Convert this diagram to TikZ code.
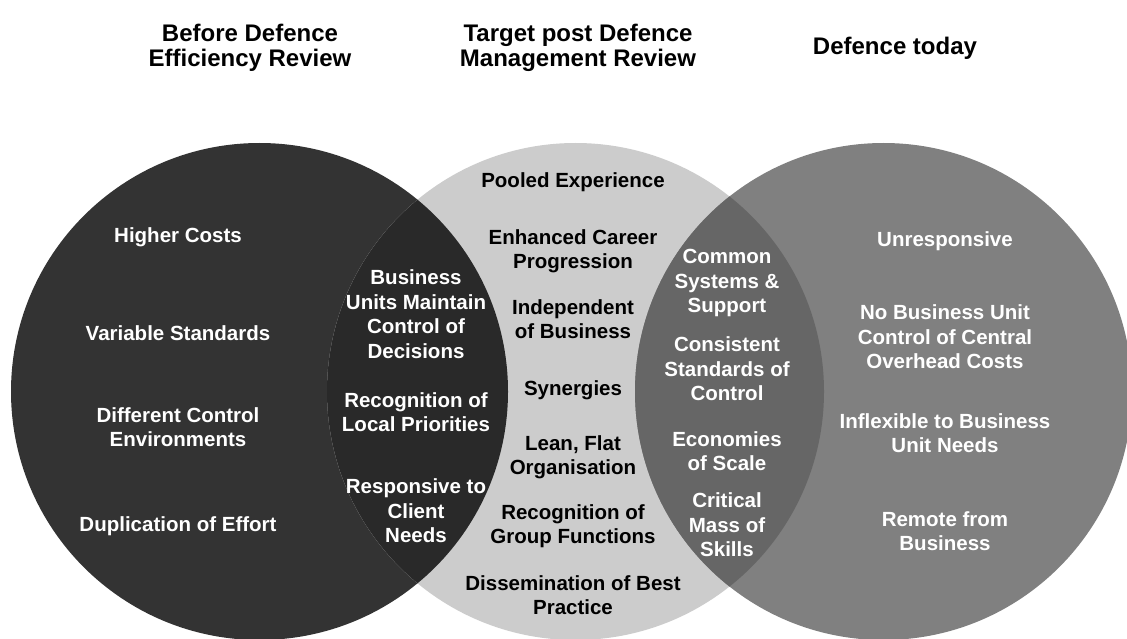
\documentclass[tikz,border=0pt]{standalone}
\usepackage{fontspec}
\setmainfont{Liberation Sans}
\definecolor{leftgray}{HTML}{333333}
\definecolor{midgray}{HTML}{CCCCCC}
\definecolor{rightgray}{HTML}{808080}
\definecolor{lcgray}{HTML}{292929}
\definecolor{crgray}{HTML}{666666}

\begin{document}
\begin{tikzpicture}[x=1pt, y=-1pt,
    txt/.style={align=center, inner sep=0pt, font=\fontsize{20.5}{24.5}\selectfont\bfseries},
    head/.style={align=center, inner sep=0pt, font=\fontsize{24}{25.5}\selectfont\bfseries}]
    \clip (0,0) rectangle (1127,639);
    \fill[white] (0,0) rectangle (1127,639);
    % circles
    \fill[leftgray] (259.5,391.5) circle [radius=248.5pt];
    \fill[midgray] (575.5,391.5) circle [radius=248.5pt];
    \fill[rightgray] (883.5,391.5) circle [radius=248.5pt];
    \begin{scope}
        \clip (259.5,391.5) circle [radius=248.5pt];
        \fill[lcgray] (575.5,391.5) circle [radius=248.5pt];
    \end{scope}
    \begin{scope}
        \clip (575.5,391.5) circle [radius=248.5pt];
        \fill[crgray] (883.5,391.5) circle [radius=248.5pt];
    \end{scope}
    % headings
    \node[head] (hleft) at (250,48) {Before Defence\\Efficiency Review};
    \node[head] (hmid) at (578,48) {Target post Defence\\Management Review};
    \node[head] (hright) at (895,48) {Defence today};
    % left circle
    \node[txt, white] (costs) at (178,237) {Higher Costs};
    \node[txt, white] (standards) at (178,333) {Variable Standards};
    \node[txt, white] (environ) at (178,427) {Different Control\\Environments};
    \node[txt, white] (dupl) at (178,526) {Duplication of Effort};
    % left and middle
    \node[txt, white] (units) at (416,314) {Business\\Units Maintain\\Control of\\Decisions};
    \node[txt, white] (local) at (416,412) {Recognition of\\Local Priorities};
    \node[txt, white] (client) at (416,511) {Responsive to\\Client\\Needs};
    % middle circle
    \node[txt] (pooled) at (573,182) {Pooled Experience};
    \node[txt] (career) at (573,251) {Enhanced Career\\Progression};
    \node[txt] (indep) at (573,319) {Independent\\of Business};
    \node[txt] (syn) at (573,390) {Synergies};
    \node[txt] (lean) at (573,457) {Lean, Flat\\Organisation};
    \node[txt] (group) at (573,526) {Recognition of\\Group Functions};
    \node[txt] (best) at (573,595) {Dissemination of Best\\Practice};
    % middle and right
    \node[txt, white] (common) at (727,283) {Common\\Systems \&\\Support};
    \node[txt, white] (consist) at (727,369) {Consistent\\Standards of\\Control};
    \node[txt, white] (scale) at (727,451) {Economies\\of Scale};
    \node[txt, white] (mass) at (727,525) {Critical\\Mass of\\Skills};
    % right circle
    \node[txt, white] (unresp) at (945,241) {Unresponsive};
    \node[txt, white] (overhead) at (945,337) {No Business Unit\\Control of Central\\Overhead Costs};
    \node[txt, white] (inflex) at (945,433) {Inflexible to Business\\Unit Needs};
    \node[txt, white] (remote) at (945,531) {Remote from\\Business};
\end{tikzpicture}
\end{document}
